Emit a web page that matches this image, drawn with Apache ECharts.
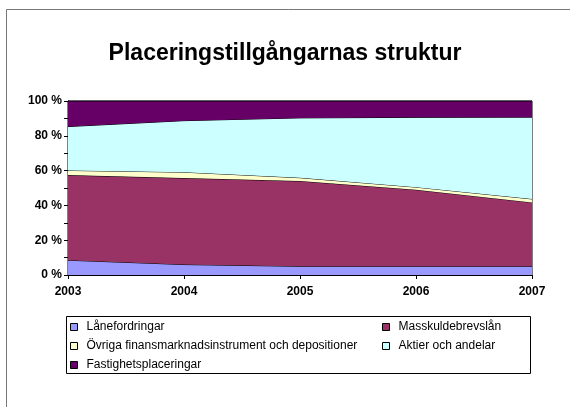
<!DOCTYPE html>
<html><head><meta charset="utf-8">
<script src="https://cdn.jsdelivr.net/npm/echarts@6/dist/echarts.min.js"></script>
<style>html,body{margin:0;padding:0;background:#fff}#c{width:570px;height:407px}</style>
</head><body><div id="c"></div>
<script>
var years = ['2003','2004','2005','2006','2007'];
var names = ['Lånefordringar','Masskuldebrevslån','Övriga finansmarknadsinstrument och depositioner','Aktier och andelar','Fastighetsplaceringar'];
var lane = [8.5, 6.0, 5.0, 5.0, 5.0];
var mass = [48.9, 49.7, 49.0, 44.0, 36.7];
var ovriga = [2.7, 3.4, 1.9, 1.5, 2.0];
var aktier = [25.2, 29.6, 34.4, 40.1, 47.0];
var fastighet = [14.7, 11.3, 9.7, 9.4, 9.3];
var colors = ['#9999FF','#993366','#FFFFCC','#CCFFFF','#660066'];
var seriesData = [lane, mass, ovriga, aktier, fastighet];

var chart = echarts.init(document.getElementById('c'));
var font = 'Liberation Sans, Arial, sans-serif';
var series = seriesData.map(function(d,i){
  return {name:names[i], type:'line', stack:'total', data:d, symbol:'none',
    lineStyle:{color:'#000', width:1}, itemStyle:{color:colors[i]},
    areaStyle:{color:colors[i], opacity:1}, z:2+i, animation:false};
});
var legendPos = [[70,321],[382,321],[70,340],[382,340],[70,359]];
var legends = names.map(function(n,i){
  return {data:[{name:n, icon:'rect', itemStyle:{color:colors[i], borderColor:'#000', borderWidth:1}}],
    left:legendPos[i][0], top:legendPos[i][1], itemWidth:7, itemHeight:7, itemGap:0,
    textStyle:{fontFamily:font, fontSize:12, color:'#000', padding:[0,0,0,4]}, selectedMode:false, padding:0};
});
chart.setOption({
  animation:false,
  title:{text:'Placeringstillgångarnas struktur', left:'center', top:37,
    textStyle:{fontFamily:font, fontSize:23, fontWeight:'bold', color:'#000'}},
  graphic:[
    {type:'rect', shape:{x:6.5, y:9.5, width:620, height:500}, style:{fill:null, stroke:'#777', lineWidth:1}, z:-1},
    {type:'rect', shape:{x:66.5, y:316.5, width:464, height:57}, style:{fill:'#fff', stroke:'#000', lineWidth:1}, z:-1}
  ],
  legend: legends,
  grid:{left:68, right:38, top:101, bottom:132, show:true, borderColor:'#000', borderWidth:1, backgroundColor:'transparent'},
  xAxis:{type:'category', data:years, boundaryGap:false,
    axisLine:{lineStyle:{color:'#000'}}, axisTick:{show:true, length:4, lineStyle:{color:'#000'}},
    axisLabel:{fontFamily:font, fontSize:12, fontWeight:'bold', color:'#000', margin:11}, splitLine:{show:false}},
  yAxis:{type:'value', min:0, max:100, interval:10,
    axisLine:{show:true, lineStyle:{color:'#000'}}, axisTick:{show:true, length:4, lineStyle:{color:'#000'}},
    axisLabel:{fontFamily:font, fontSize:12, fontWeight:'bold', color:'#000', margin:6,
      formatter:function(v){return v%20===0 ? v+' %' : '';}}, splitLine:{show:false}},
  series: series
});
</script></body></html>
